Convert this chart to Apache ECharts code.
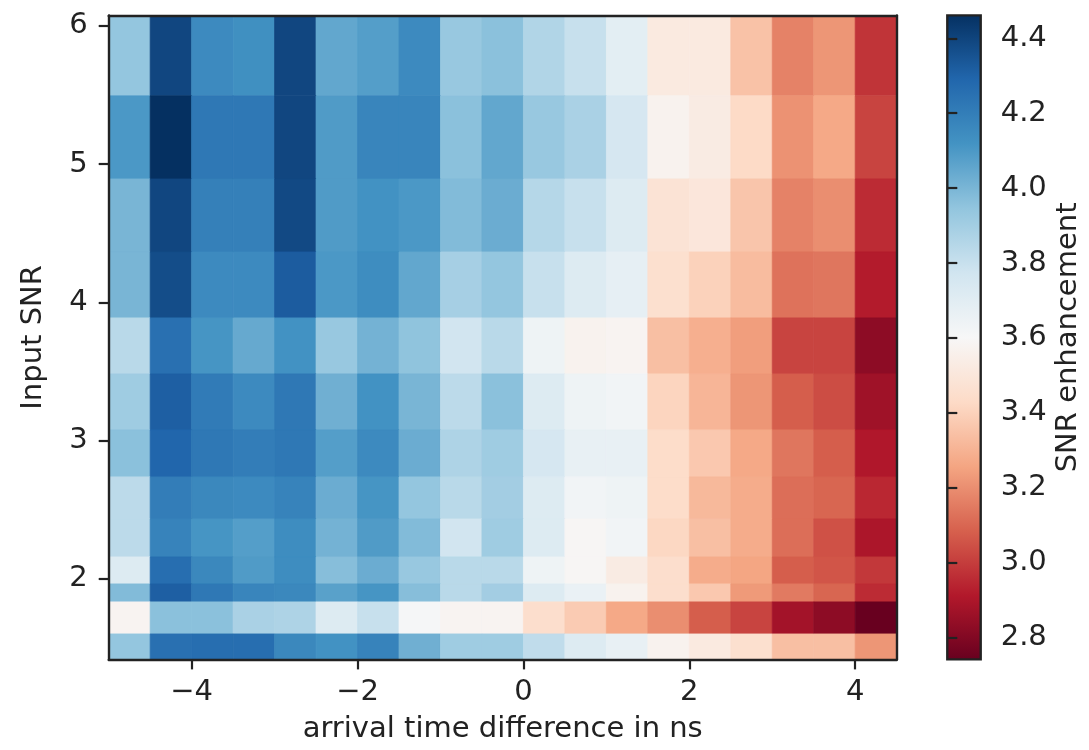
<!DOCTYPE html>
<html>
<head>
<meta charset="utf-8">
<script src="https://cdn.jsdelivr.net/npm/echarts@6/dist/echarts.min.js"></script>
<style>
  html, body { margin: 0; padding: 0; background: #ffffff; }
  #chart { width: 1089px; height: 750px; }
</style>
</head>
<body>
<div id="chart"></div>
<script>
// ---------------- DATA ----------------
// cell edges along x (arrival time difference in ns)
const xEdges = [-5, -4.5, -4, -3.5, -3, -2.5, -2, -1.5, -1, -0.5, 0, 0.5, 1, 1.5, 2, 2.5, 3, 3.5, 4, 4.5];
// cell edges along y (input SNR), top to bottom
const yEdges = [6.076, 5.494, 4.893, 4.365, 3.888, 3.483, 3.078, 2.738, 2.434, 2.159, 1.964, 1.834, 1.602, 1.418];
// SNR enhancement, one row per y band (top to bottom), one value per x column
const row0  = [3.94, 4.39, 4.15, 4.13, 4.39, 4.05, 4.08, 4.15, 3.93, 3.96, 3.86, 3.80, 3.69, 3.52, 3.52, 3.35, 3.17, 3.22, 2.98];
const row1  = [4.10, 4.46, 4.22, 4.22, 4.39, 4.09, 4.17, 4.17, 3.96, 4.05, 3.93, 3.88, 3.75, 3.57, 3.53, 3.43, 3.21, 3.27, 3.02];
const row2  = [4.00, 4.39, 4.19, 4.19, 4.38, 4.09, 4.12, 4.10, 3.98, 4.03, 3.85, 3.80, 3.72, 3.48, 3.50, 3.36, 3.17, 3.20, 2.96];
const row3  = [4.00, 4.37, 4.15, 4.15, 4.32, 4.10, 4.14, 4.05, 3.89, 3.94, 3.80, 3.72, 3.68, 3.46, 3.40, 3.33, 3.13, 3.14, 2.92];
const row4  = [3.84, 4.25, 4.11, 4.04, 4.12, 3.93, 4.01, 3.95, 3.77, 3.84, 3.64, 3.57, 3.58, 3.34, 3.29, 3.24, 3.02, 3.02, 2.83];
const row5  = [3.91, 4.31, 4.21, 4.15, 4.22, 4.02, 4.12, 4.00, 3.83, 3.96, 3.72, 3.64, 3.63, 3.41, 3.31, 3.22, 3.08, 3.04, 2.87];
const row6  = [3.96, 4.29, 4.22, 4.20, 4.22, 4.08, 4.15, 4.03, 3.87, 3.91, 3.75, 3.67, 3.67, 3.44, 3.37, 3.27, 3.14, 3.08, 2.91];
const row7  = [3.83, 4.20, 4.16, 4.15, 4.18, 4.03, 4.11, 3.94, 3.84, 3.90, 3.72, 3.63, 3.64, 3.44, 3.32, 3.28, 3.12, 3.10, 2.95];
const row8  = [3.83, 4.18, 4.11, 4.08, 4.14, 4.01, 4.09, 3.98, 3.77, 3.91, 3.72, 3.59, 3.63, 3.42, 3.34, 3.28, 3.12, 3.05, 2.90];
const row9  = [3.72, 4.26, 4.16, 4.09, 4.14, 3.97, 4.03, 3.93, 3.84, 3.84, 3.64, 3.59, 3.53, 3.45, 3.28, 3.26, 3.08, 3.06, 2.99];
const row10 = [3.98, 4.31, 4.22, 4.17, 4.16, 4.07, 4.11, 3.97, 3.84, 3.90, 3.72, 3.66, 3.57, 3.45, 3.37, 3.23, 3.15, 3.10, 2.96];
const row11 = [3.58, 3.96, 3.96, 3.88, 3.87, 3.72, 3.80, 3.61, 3.58, 3.58, 3.45, 3.38, 3.27, 3.20, 3.08, 3.02, 2.88, 2.83, 2.745];
const row12 = [3.94, 4.25, 4.26, 4.26, 4.16, 4.12, 4.18, 4.02, 3.91, 3.91, 3.82, 3.72, 3.67, 3.57, 3.52, 3.46, 3.34, 3.34, 3.22];
const rows = [row0, row1, row2, row3, row4, row5, row6, row7, row8, row9, row10, row11, row12];

const xTicks = [-4, -2, 0, 2, 4];
const yTicks = [2, 3, 4, 5, 6];
const cbTicks = [2.8, 3.0, 3.2, 3.4, 3.6, 3.8, 4.0, 4.2, 4.4];
const cbRange = [2.742, 4.461];
// RdBu colormap anchors, low -> high
const rdbu = ['#67001f', '#b2182b', '#d6604d', '#f4a582', '#fddbc7', '#f7f7f7',
              '#d1e5f0', '#92c5de', '#4393c3', '#2166ac', '#053061'];

// ---------------- BUILD ----------------
const cells = [];
for (let r = 0; r < rows.length; r++) {
  for (let c = 0; c < rows[r].length; c++) {
    cells.push([xEdges[c], xEdges[c + 1], yEdges[r + 1], yEdges[r], rows[r][c]]);
  }
}

const FONT = 'DejaVu Sans';
const INK = '#222222';
const FS = 29;
const minus = v => (v < 0 ? '\u2212' + Math.abs(v) : String(v));

const chart = echarts.init(document.getElementById('chart'), null, { renderer: 'canvas', width: 1089, height: 750 });

const lineAxis = (extra) => Object.assign({
  type: 'value',
  z: 10,
  splitLine: { show: false },
  axisLine: { show: true, onZero: false, lineStyle: { color: INK, width: 2.4 } },
  axisTick: { show: false },
  axisLabel: { show: false }
}, extra);

const option = {
  animation: false,
  backgroundColor: '#ffffff',
  grid: [
    { left: 108.7, top: 15.4, width: 788, height: 644, containLabel: false },
    { left: 947.3, top: 15.4, width: 33.4, height: 644, containLabel: false }
  ],
  visualMap: {
    show: false,
    type: 'continuous',
    min: cbRange[0],
    max: cbRange[1],
    dimension: 4,
    seriesIndex: 0,
    inRange: { color: rdbu }
  },
  xAxis: [
    lineAxis({
      gridIndex: 0, position: 'bottom', min: xEdges[0], max: xEdges[xEdges.length - 1],
      axisTick: { show: true, customValues: xTicks, length: 10, lineStyle: { color: INK, width: 2.2 } },
      axisLabel: { show: true, customValues: xTicks, formatter: minus, margin: 19,
                   fontFamily: FONT, fontSize: FS, color: INK },
      name: 'arrival time difference in ns', nameLocation: 'middle', nameGap: 56,
      nameTextStyle: { fontFamily: FONT, fontSize: FS, color: INK }
    }),
    lineAxis({ gridIndex: 0, position: 'top', min: xEdges[0], max: xEdges[xEdges.length - 1] }),
    { type: 'value', gridIndex: 1, min: 0, max: 1, show: false }
  ],
  yAxis: [
    lineAxis({
      gridIndex: 0, position: 'left', min: yEdges[yEdges.length - 1], max: yEdges[0],
      axisTick: { show: true, customValues: yTicks, length: 10, lineStyle: { color: INK, width: 2.2 } },
      axisLabel: { show: true, customValues: yTicks, margin: 21,
                   fontFamily: FONT, fontSize: FS, color: INK },
      name: 'Input SNR', nameLocation: 'middle', nameGap: 61,
      nameTextStyle: { fontFamily: FONT, fontSize: FS, color: INK }
    }),
    lineAxis({ gridIndex: 0, position: 'right', min: yEdges[yEdges.length - 1], max: yEdges[0] }),
    {
      type: 'value', gridIndex: 1, position: 'right', min: cbRange[0], max: cbRange[1], z: 10,
      splitLine: { show: false },
      axisLine: { show: false },
      axisTick: { show: true, customValues: cbTicks, length: 10, lineStyle: { color: INK, width: 2.2 } },
      axisLabel: { show: true, customValues: cbTicks, formatter: v => v.toFixed(1), margin: 20,
                   fontFamily: FONT, fontSize: FS, color: INK },
      name: 'SNR enhancement', nameLocation: 'middle', nameRotate: 90, nameGap: 73,
      nameTextStyle: { fontFamily: FONT, fontSize: FS, color: INK }
    }
  ],
  series: [
    {
      type: 'custom',
      coordinateSystem: 'cartesian2d',
      xAxisIndex: 0, yAxisIndex: 0,
      encode: { x: [0, 1], y: [2, 3] },
      clip: true,
      silent: true,
      data: cells,
      renderItem: function (params, api) {
        const a = api.coord([api.value(0), api.value(3)]);
        const b = api.coord([api.value(1), api.value(2)]);
        const col = api.visual('color');
        return {
          type: 'rect',
          shape: { x: a[0], y: a[1], width: b[0] - a[0], height: b[1] - a[1] },
          style: { fill: col, stroke: col, lineWidth: 0.8 }
        };
      }
    },
    {
      type: 'custom',
      coordinateSystem: 'cartesian2d',
      xAxisIndex: 2, yAxisIndex: 2,
      encode: { x: [0, 1], y: [2, 3] },
      clip: false,
      silent: true,
      z: 5,
      data: [[0, 1, cbRange[0], cbRange[1]]],
      renderItem: function (params, api) {
        const a = api.coord([api.value(0), api.value(3)]);
        const b = api.coord([api.value(1), api.value(2)]);
        const stops = rdbu.map((c, i) => ({ offset: i / (rdbu.length - 1), color: c }));
        return {
          type: 'rect',
          shape: { x: a[0], y: a[1], width: b[0] - a[0], height: b[1] - a[1] },
          style: {
            fill: new echarts.graphic.LinearGradient(0, 1, 0, 0, stops),
            stroke: INK, lineWidth: 2.4
          }
        };
      }
    }
  ]
};

chart.setOption(option);
</script>
</body>
</html>
